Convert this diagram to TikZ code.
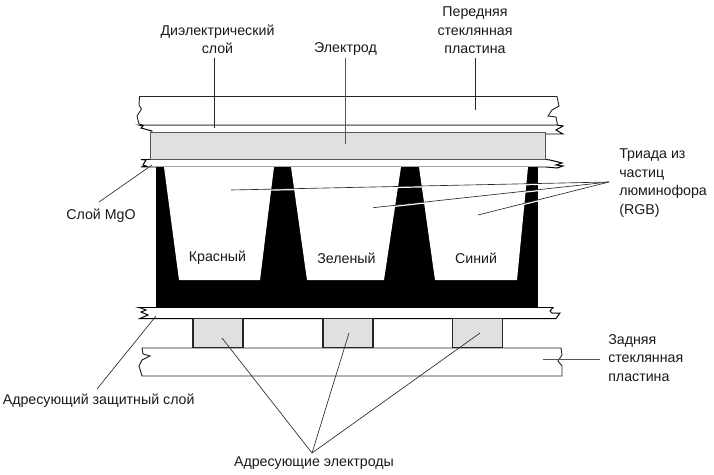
\documentclass[tikz,border=0pt]{standalone}
\usepackage{fontspec}
\setmainfont{Liberation Sans}
\definecolor{colfill}{HTML}{E0E0E0}
\definecolor{colline}{HTML}{555555}
\tikzset{
    caption/.style={font=\fontsize{10.1pt}{13.2pt}\selectfont, align=center, text=black!90, inner sep=0pt},
    caption left/.style={caption, align=left, anchor=west},
    glass/.style={draw=black!85, line width=0.65pt, fill=white},
    layer/.style={draw=black, line width=0.7pt, fill=white},
    electrode/.style={draw=black!85, line width=0.8pt, fill=colfill, minimum width=35.5pt, minimum height=20.5pt, inner sep=0pt},
    screen/.style={draw=colline, line width=0.9pt, fill=colfill},
    cell/.style={fill=white, draw=none},
    leader/.style={draw=black!85, line width=0.45pt},
    halo leader/.style={leader, preaction={draw=white, line width=1pt, transform canvas={yshift=-0.6pt}}},
    gray leader/.style={draw=colline, line width=0.7pt},
}
\begin{document}
\begin{tikzpicture}[x=0.025cm, y=-0.025cm]

\useasboundingbox (0,0) rectangle (714,474);

% ===== FRONT PLATE =====
\draw[layer] (139,125) -- (143,126) -- (141,128) -- (152,131) -- (152,134) -- (546,134) -- (563,134) -- (556,130) -- (563,126) -- (557,125) -- cycle;
\fill[white] (150,132) rectangle (546,160);
\draw[glass] (139.5,96.5) -- (557,96.5) -- (559,106) -- (552,110) -- (548,116) -- (556,117) -- (557.5,125) -- (143,125) -- (139,124) -- (137,116) -- (141.5,109) -- (139,105) -- cycle;

% ===== DIELECTRIC BELOW ELECTRODE =====
\draw[layer] (141,159.5) -- (546,159.5) -- (550,160) -- (562,163) -- (556,165) -- (563,166) -- (557,168) -- (546,167) -- (141,167) -- (146,166) -- (143,165) -- (146,160) -- cycle;

% ===== ELECTRODE =====
\node[screen, minimum width=280.7pt, minimum height=19pt, inner sep=0pt] (screen) at (348,146) {};

% ===== PHOSPHOR CELLS =====
\fill[black] (156,167) rectangle (538,307);
\fill[cell] (164,167) -- (179,280) -- (260,280) -- (274,167) -- cycle;
\fill[cell] (291,167) -- (307,280) -- (384,280) -- (401,167) -- cycle;
\fill[cell] (419,167) -- (435,280) -- (517,280) -- (528,167) -- cycle;
\node[caption] (red) at (217.5,258) {Красный};
\node[caption] (green) at (346.5,258) {Зеленый};
\node[caption] (blue) at (476,258) {Синий};

% ===== REAR PLATE =====
\draw[glass] (142,348) -- (561,348) -- (562,355) -- (558,361) -- (562,366) -- (562,376) -- (142,376) -- (139,366) -- (142,360) -- (150,356) -- (143,354) -- cycle;
\draw[layer] (139,307.5) -- (553,307.5) -- (550,311) -- (552,313) -- (560,313) -- (556,318.5) -- (140,318.5) -- (148,315) -- (141,312) -- (146,310) -- (141,308) -- cycle;
\node[electrode] (addrA) at (218,333.3) {};
\node[electrode] (addrB) at (348,333.3) {};
\node[electrode] (addrC) at (477.5,333.3) {};

% ===== LABELS =====
\node[caption] (dielectric) at (217.5,39.5) {Диэлектрический\\слой};
\node[caption] (electrodeLabel) at (345.5,49) {Электрод};
\node[caption] (frontglass) at (475,30.5) {Передняя\\стеклянная\\пластина};
\node[caption left] (triad) at (619,183) {Триада из\\частиц\\люминофора\\(RGB)};
\node[caption] (mgo) at (101,216) {Слой MgO};
\node[caption left] (rearglass) at (608,358) {Задняя\\стеклянная\\пластина};
\node[caption left] (protect) at (2.5,400.5) {Адресующий защитный слой};
\node[caption] (addrLabel) at (314,463) {Адресующие электроды};

% ===== LEADER ENDS =====
\coordinate (dielectricA) at (214.7,57.5);
\coordinate (dielectricB) at (214.7,128);
\coordinate (electrodeA) at (345,57.5);
\coordinate (electrodeB) at (345,144);
\coordinate (frontA) at (475.7,57.5);
\coordinate (frontB) at (475.7,110);
\coordinate (mgoA) at (152,165);
\coordinate (mgoB) at (99,202);
\coordinate (triadTip) at (609,182);
\coordinate (triadA) at (231,190);
\coordinate (triadB) at (373,207.7);
\coordinate (triadC) at (478,215);
\coordinate (protectA) at (156,316);
\coordinate (protectB) at (97,389);
\coordinate (addrTip) at (312,453);
\coordinate (addrEndA) at (222,338);
\coordinate (addrEndB) at (349,333);
\coordinate (addrEndC) at (480,333);
\coordinate (rearA) at (543,359);
\coordinate (rearB) at (600,359);

% ===== LEADERS =====
\draw[leader] (dielectricA) -- (dielectricB);
\draw[gray leader] (electrodeA) -- (electrodeB);
\draw[leader] (frontA) -- (frontB);
\draw[leader] (mgoA) -- (mgoB);
\draw[halo leader] (triadTip) -- (triadA);
\draw[halo leader] (triadTip) -- (triadB);
\draw[halo leader] (triadTip) -- (triadC);
\draw[leader] (protectA) -- (protectB);
\draw[leader] (addrTip) -- (addrEndA);
\draw[leader] (addrTip) -- (addrEndB);
\draw[leader] (addrTip) -- (addrEndC);
\draw[gray leader] (rearA) -- (rearB);

\end{tikzpicture}
\end{document}
